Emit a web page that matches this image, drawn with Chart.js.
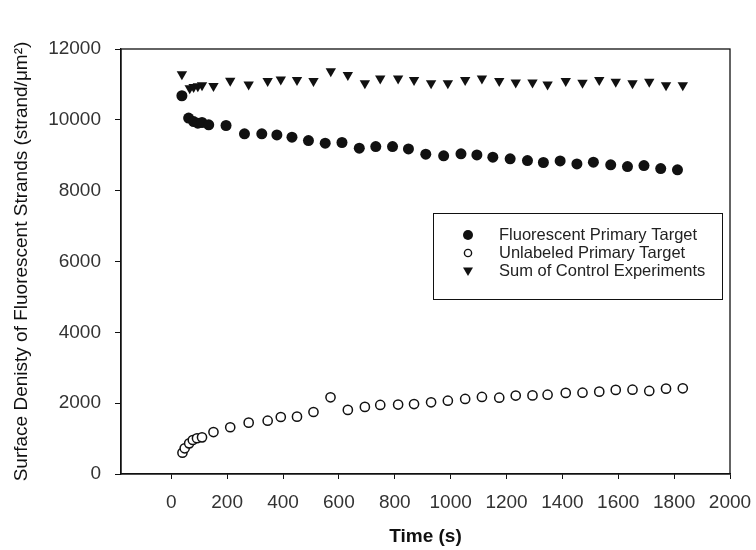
<!DOCTYPE html>
<html>
<head>
<meta charset="utf-8">
<script src="https://cdn.jsdelivr.net/npm/chart.js@4.4.0/dist/chart.umd.min.js"></script>
<style>
  body { margin: 0; background: #fff; }
  #wrap { width: 756px; height: 550px; }
</style>
</head>
<body>
<div id="wrap"><canvas id="surface__chart" width="756" height="550"></canvas></div>
<script>
// Values
const fluorTime = [38, 62, 80, 95, 110, 134, 196, 262, 324, 378, 432, 491, 551, 611, 673, 732, 792, 849, 911, 975,
  1037, 1094, 1151, 1213, 1275, 1332, 1392, 1452, 1511, 1573, 1633, 1692, 1752, 1812];
const fluorDensity = [10680, 10050, 9950, 9905, 9925, 9860, 9840, 9605, 9605, 9575, 9510, 9415, 9340, 9360, 9200, 9245, 9245, 9180, 9030, 8985,
  9040, 9010, 8945, 8900, 8850, 8795, 8840, 8755, 8805, 8730, 8680, 8710, 8625, 8590];

const unlabeledTime = [40, 48, 64, 77, 92, 110, 151, 211, 277, 345, 392, 450, 509, 570, 632, 693, 748, 812, 869, 930,
  990, 1052, 1112, 1174, 1233, 1293, 1347, 1412, 1472, 1532, 1591, 1651, 1711, 1771, 1831];
const unlabeledDensity = [600, 725, 865, 960, 1010, 1035, 1185, 1320, 1450, 1505, 1610, 1620, 1750, 2165, 1810, 1895, 1950, 1960, 1975, 2025,
  2070, 2120, 2175, 2155, 2215, 2220, 2240, 2290, 2295, 2325, 2375, 2380, 2345, 2410, 2420];

const controlTime = [38, 66, 80, 95, 110, 151, 211, 277, 345, 392, 450, 509, 571, 632, 693, 748, 812, 869, 930,
  990, 1052, 1112, 1174, 1233, 1293, 1347, 1412, 1472, 1532, 1591, 1651, 1711, 1771, 1831];
const controlDensity = [11285, 10890, 10925, 10945, 10980, 10955, 11105, 11000, 11095, 11140, 11125, 11095, 11375, 11265, 11030, 11170, 11170, 11125, 11030,
  11030, 11125, 11170, 11095, 11055, 11055, 11000, 11095, 11050, 11125, 11075, 11030, 11075, 10980, 10980];

const xTicks = [0, 200, 400, 600, 800, 1000, 1200, 1400, 1600, 1800, 2000];
const yTicks = [0, 2000, 4000, 6000, 8000, 10000, 12000];
const seriesNames = ['Fluorescent Primary Target', 'Unlabeled Primary Target', 'Sum of Control Experiments'];

const toPoints = (xs, ys) => xs.map((x, i) => ({ x: x, y: ys[i] }));

// Draws the plot frame and the boxed legend
const framePlugin = {
  id: 'frame',
  afterDraw(chart) {
    const { ctx, chartArea: a } = chart;
    ctx.save();
    ctx.strokeStyle = '#111';
    ctx.lineWidth = 1.3;
    ctx.strokeRect(a.left, a.top, a.right - a.left, a.bottom - a.top);

    // legend box
    ctx.lineWidth = 1;
    ctx.strokeRect(433.5, 213.5, 289, 86);
    ctx.font = '16.5px "Liberation Sans", Arial, sans-serif';
    ctx.textBaseline = 'middle';
    const rows = [235, 253, 271];
    rows.forEach((y, i) => {
      const mx = 468;
      ctx.fillStyle = '#111';
      ctx.strokeStyle = '#111';
      ctx.beginPath();
      if (i === 0) {
        ctx.arc(mx, y, 5, 0, Math.PI * 2);
        ctx.fill();
      } else if (i === 1) {
        ctx.lineWidth = 1.4;
        ctx.arc(mx, y, 3.6, 0, Math.PI * 2);
        ctx.stroke();
      } else {
        ctx.moveTo(mx - 5, y - 3.5);
        ctx.lineTo(mx + 5, y - 3.5);
        ctx.lineTo(mx, y + 5);
        ctx.closePath();
        ctx.fill();
      }
      ctx.fillStyle = '#222';
      ctx.fillText(seriesNames[i], 499, y);
    });
    ctx.restore();
  }
};

const ctx = document.getElementById('surface__chart').getContext('2d');
const surfaceChart = new Chart(ctx, {
  type: 'scatter',
  data: {
    datasets: [
      {
        label: seriesNames[0],
        data: toPoints(fluorTime, fluorDensity),
        pointStyle: 'circle',
        pointRadius: 5.5,
        pointBorderWidth: 0,
        backgroundColor: '#111',
        borderColor: '#111'
      },
      {
        label: seriesNames[1],
        data: toPoints(unlabeledTime, unlabeledDensity),
        pointStyle: 'circle',
        pointRadius: 4.6,
        pointBorderWidth: 1.5,
        backgroundColor: '#fff',
        borderColor: '#111'
      },
      {
        label: seriesNames[2],
        data: toPoints(controlTime, controlDensity),
        pointStyle: 'triangle',
        pointRotation: 180,
        pointRadius: 6,
        pointBorderWidth: 0,
        backgroundColor: '#111',
        borderColor: '#111'
      }
    ]
  },
  options: {
    responsive: false,
    animation: false,
    layout: { padding: { top: 49, right: 26, left: 0, bottom: 0 } },
    plugins: {
      legend: { display: false },
      tooltip: { enabled: false }
    },
    scales: {
      x: {
        type: 'linear',
        min: -180,
        max: 2000,
        afterBuildTicks: scale => { scale.ticks = xTicks.map(v => ({ value: v })); },
        afterFit: scale => { scale.height = 76; scale.paddingLeft = 0; scale.paddingRight = 0; },
        grid: { drawOnChartArea: false, drawTicks: true, tickLength: 5, color: '#111' },
        border: { display: true, color: '#111', width: 1.3 },
        ticks: {
          color: '#333',
          padding: 12,
          maxRotation: 0,
          font: { family: '"Liberation Sans", Arial, sans-serif', size: 19 },
          callback: v => String(v)
        },
        title: {
          display: true,
          text: 'Time (s)',
          color: '#111',
          padding: { top: 0, bottom: 2 },
          font: { family: '"Liberation Sans", Arial, sans-serif', size: 19, weight: 'bold' }
        }
      },
      y: {
        type: 'linear',
        min: 0,
        max: 12000,
        afterBuildTicks: scale => { scale.ticks = yTicks.map(v => ({ value: v })); },
        afterFit: scale => { scale.width = 121; },
        grid: { drawOnChartArea: false, drawTicks: true, tickLength: 6, color: '#111' },
        border: { display: true, color: '#111', width: 1.3 },
        ticks: {
          color: '#333',
          padding: 14,
          font: { family: '"Liberation Sans", Arial, sans-serif', size: 19 },
          callback: v => String(v)
        },
        title: {
          display: true,
          text: 'Surface Denisty of Fluorescent Strands (strand/\u03bcm\u00b2)',
          color: '#111',
          padding: { top: 10, bottom: 0 },
          font: { family: '"Liberation Sans", Arial, sans-serif', size: 19 }
        }
      }
    }
  },
  plugins: [framePlugin]
});
</script>
</body>
</html>
